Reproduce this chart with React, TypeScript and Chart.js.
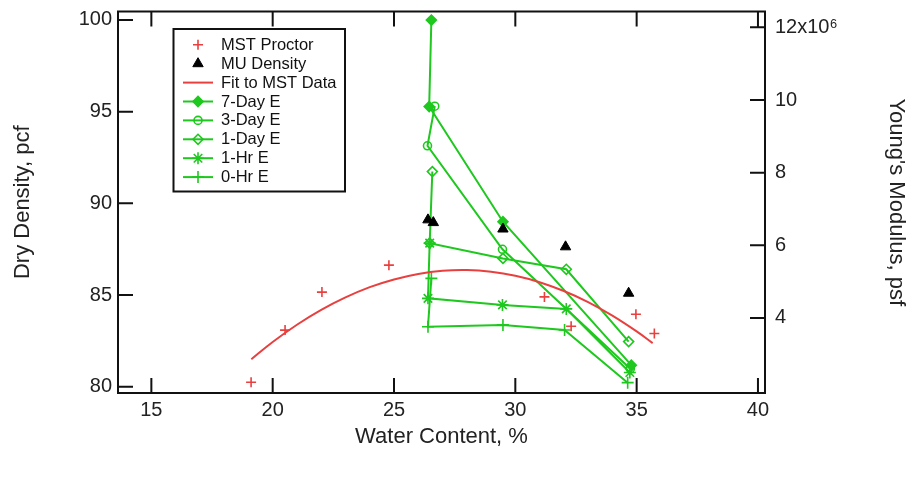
import React, { useEffect, useRef } from 'react';
import { Chart, registerables } from 'chart.js';
import { drawPoint } from 'chart.js/helpers';

Chart.register(...registerables);

// ---------- data ----------
const xTicks = [15, 20, 25, 30, 35, 40];
const leftTicks = [80, 85, 90, 95, 100];
const rightTicks = [4, 6, 8, 10, 12];

// MST Proctor (water %, dry density pcf)
const proctorW = [19.11, 20.51, 22.03, 24.79, 31.2, 32.3, 34.97, 35.73];
const proctorD = [80.25, 83.09, 85.16, 86.63, 84.9, 83.3, 83.95, 82.9];

// MU Density
const muW = [26.4, 26.62, 29.49, 32.07, 34.67];
const muD = [89.1, 88.95, 88.6, 87.63, 85.1];

// Fit to MST Data
const fitW = [19.12, 20, 21, 22, 23, 24, 25, 26, 27, 28, 29, 30, 31, 32, 33, 34, 35, 35.66];
const fitD = [81.5, 82.44, 83.38, 84.19, 84.87, 85.43, 85.85, 86.15, 86.32, 86.36, 86.27, 86.05, 85.7, 85.22, 84.62, 83.88, 83.02, 82.38];

// Young's modulus series (x10^6 psf)
const day7W = [26.54, 26.45, 29.49, 34.78];
const day7E = [12.2, 9.82, 6.65, 2.7];
const day3W = [26.68, 26.38, 29.47, 34.74];
const day3E = [9.83, 8.74, 5.89, 2.6];
const day1W = [26.58, 26.47, 29.49, 32.1, 34.67];
const day1E = [8.03, 6.06, 5.64, 5.34, 3.35];
const hr1W = [26.47, 26.4, 29.47, 32.1, 34.72];
const hr1E = [6.06, 4.54, 4.36, 4.25, 2.5];
const hr0W = [26.54, 26.4, 29.49, 32.03, 34.63];
const hr0E = [5.09, 3.76, 3.81, 3.67, 2.22];

const FONT = '"Liberation Sans", Arial, sans-serif';
const RED = '#e8403f';
const GREEN = '#1ec81e';

const pts = (xs: number[], ys: number[]) => xs.map((x, i) => ({ x, y: ys[i] }));

const greenSet = (label: string, xs: number[], ys: number[], style: string, radius: number, fill: boolean) => ({
  label,
  data: pts(xs, ys),
  yAxisID: 'y2',
  showLine: true,
  borderColor: GREEN,
  backgroundColor: fill ? GREEN : 'rgba(0,0,0,0)',
  borderWidth: 2,
  pointStyle: style,
  pointRadius: radius,
  pointBorderWidth: 1.6,
  pointBorderColor: GREEN,
  pointBackgroundColor: fill ? GREEN : 'rgba(0,0,0,0)',
  _legendLine: true,
  _legendMarker: true,
});

const framePlugin = {
  id: 'frameTicks',
  afterDatasetsDraw(chart: any) {
    const { ctx, chartArea: a, scales } = chart;
    const L = 15;
    ctx.save();
    ctx.strokeStyle = '#111';
    ctx.lineWidth = 2;
    ctx.strokeRect(a.left, a.top, a.right - a.left, a.bottom - a.top);
    ctx.beginPath();
    xTicks.forEach((v) => {
      const p = scales.x.getPixelForValue(v);
      ctx.moveTo(p, a.bottom);
      ctx.lineTo(p, a.bottom - L);
      ctx.moveTo(p, a.top);
      ctx.lineTo(p, a.top + L);
    });
    leftTicks.forEach((v) => {
      const p = scales.y.getPixelForValue(v);
      ctx.moveTo(a.left, p);
      ctx.lineTo(a.left + L, p);
    });
    rightTicks.forEach((v) => {
      const p = scales.y2.getPixelForValue(v);
      ctx.moveTo(a.right, p);
      ctx.lineTo(a.right - L, p);
    });
    ctx.stroke();
    ctx.restore();
  },
};

const legendPlugin = {
  id: 'boxLegend',
  afterDraw(chart: any) {
    const { ctx } = chart;
    const bx = 173.5, by = 29, bw = 171.5, bh = 162.5;
    ctx.save();
    ctx.fillStyle = '#fff';
    ctx.fillRect(bx, by, bw, bh);
    ctx.strokeStyle = '#111';
    ctx.lineWidth = 2;
    ctx.strokeRect(bx, by, bw, bh);
    const y0 = 44.8, step = 18.9;
    ctx.font = '16.5px ' + FONT;
    ctx.textBaseline = 'middle';
    ctx.textAlign = 'left';
    chart.data.datasets.forEach((ds: any, i: number) => {
      const y = y0 + i * step;
      if (ds._legendLine) {
        ctx.strokeStyle = ds.borderColor;
        ctx.lineWidth = 2;
        ctx.beginPath();
        ctx.moveTo(183, y);
        ctx.lineTo(213, y);
        ctx.stroke();
      }
      if (ds._legendMarker) {
        ctx.fillStyle = ds.pointBackgroundColor;
        ctx.strokeStyle = ds.pointBorderColor;
        ctx.lineWidth = ds.pointBorderWidth;
        drawPoint(ctx, { pointStyle: ds.pointStyle, radius: ds.pointRadius, rotation: 0, borderWidth: ds.pointBorderWidth }, 198, y);
      }
      ctx.fillStyle = '#111';
      ctx.fillText(ds.label, 221, y + 0.5);
    });
    ctx.restore();
  },
};

export default function App() {
  const ref = useRef<HTMLCanvasElement>(null);
  useEffect(() => {
    const datasets: any[] = [
      {
        label: 'MST Proctor',
        data: pts(proctorW, proctorD),
        yAxisID: 'y',
        showLine: false,
        pointStyle: 'cross',
        pointRadius: 5,
        pointBorderWidth: 1.6,
        pointBorderColor: RED,
        pointBackgroundColor: RED,
        borderColor: RED,
        backgroundColor: RED,
        _legendLine: false,
        _legendMarker: true,
      },
      {
        label: 'MU Density',
        data: pts(muW, muD),
        yAxisID: 'y',
        showLine: false,
        pointStyle: 'triangle',
        pointRadius: 6,
        pointBorderWidth: 1,
        pointBorderColor: '#000',
        pointBackgroundColor: '#000',
        borderColor: '#000',
        backgroundColor: '#000',
        _legendLine: false,
        _legendMarker: true,
      },
      {
        label: 'Fit to MST Data',
        data: pts(fitW, fitD),
        yAxisID: 'y',
        showLine: true,
        tension: 0.4,
        pointRadius: 0,
        borderColor: RED,
        backgroundColor: RED,
        borderWidth: 2,
        _legendLine: true,
        _legendMarker: false,
      },
      greenSet('7-Day E', day7W, day7E, 'rectRot', 5, true),
      greenSet('3-Day E', day3W, day3E, 'circle', 4, false),
      greenSet('1-Day E', day1W, day1E, 'rectRot', 5, false),
      greenSet('1-Hr E', hr1W, hr1E, 'star', 6, false),
      greenSet('0-Hr E', hr0W, hr0E, 'cross', 6, false),
    ];

    const tickFont = { family: FONT, size: 20 };
    const titleFont = { family: FONT, size: 22 };

    const chart = new Chart(ref.current as HTMLCanvasElement, {
      type: 'scatter',
      data: { datasets },
      plugins: [framePlugin, legendPlugin],
      options: {
        animation: false,
        responsive: false,
        maintainAspectRatio: false,
        events: [],
        layout: { padding: { top: 11.5, left: 0, right: 0, bottom: 0 } },
        plugins: { legend: { display: false }, tooltip: { enabled: false } },
        scales: {
          x: {
            type: 'linear',
            position: 'bottom',
            min: 13.625,
            max: 40.29,
            grid: { display: false, drawTicks: false },
            border: { display: false },
            ticks: { font: tickFont, color: '#222', padding: 5, maxRotation: 0, callback: (v: any) => String(v) },
            afterBuildTicks: (s: any) => { s.ticks = xTicks.map((v) => ({ value: v })); },
            afterFit: (s: any) => { s.height = 84; s.paddingLeft = 0; s.paddingRight = 0; },
            title: { display: true, text: 'Water Content, %', font: titleFont, color: '#222', padding: { top: 0, bottom: 26.8 } },
          },
          y: {
            type: 'linear',
            position: 'left',
            min: 79.66,
            max: 100.46,
            grid: { display: false, drawTicks: false },
            border: { display: false },
            ticks: { font: tickFont, color: '#222', padding: 6, callback: (v: any) => String(v) },
            afterBuildTicks: (s: any) => { s.ticks = leftTicks.map((v) => ({ value: v })); },
            afterFit: (s: any) => { s.width = 118; s.paddingTop = 0; s.paddingBottom = 0; },
            title: { display: true, text: 'Dry Density, pcf', font: titleFont, color: '#222', padding: { top: 9.3, bottom: 0 } },
          },
          y2: {
            type: 'linear',
            position: 'right',
            min: 1.935,
            max: 12.436,
            grid: { display: false, drawTicks: false },
            border: { display: false },
            ticks: { font: tickFont, color: '#222', padding: 10, callback: (v: any) => (v === 12 ? '12x10\u2076' : String(v)) },
            afterBuildTicks: (s: any) => { s.ticks = rightTicks.map((v) => ({ value: v })); },
            afterFit: (s: any) => { s.width = 150; s.paddingTop = 0; s.paddingBottom = 0; },
            title: { display: true, text: "Young's Modulus, psf", font: titleFont, color: '#222', padding: { top: 6.1, bottom: 0 } },
          },
        },
      } as any,
    } as any);
    return () => chart.destroy();
  }, []);

  return (
    <div style={{ position: 'fixed', left: 0, top: 0, width: 915, height: 477, background: '#fff' }}>
      <canvas ref={ref} width={915} height={477} style={{ display: 'block', width: 915, height: 477 }} />
    </div>
  );
}
